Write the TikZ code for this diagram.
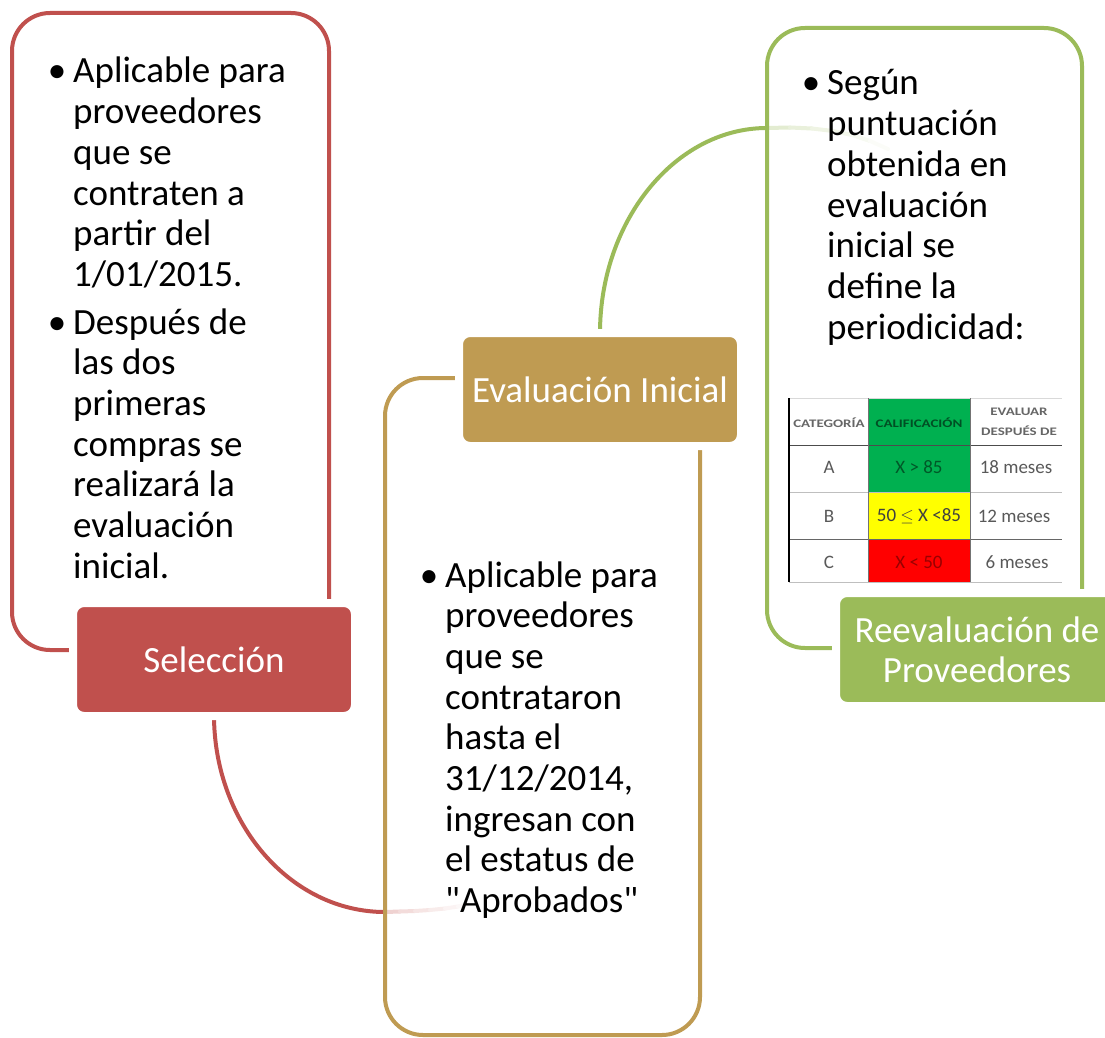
\documentclass[tikz,border=0pt]{standalone}
\usepackage{fontspec}
\usepackage{graphicx}
\setmainfont{Carlito}[Ligatures=TeXOff]
\definecolor{cred}{HTML}{C0504D}
\definecolor{cgold}{HTML}{BF9B52}
\definecolor{cgreen}{HTML}{9BBB59}
\definecolor{tgreen}{HTML}{00B050}
\definecolor{tyellow}{HTML}{FFFF00}
\definecolor{tred}{HTML}{FF0000}
\newcommand{\btext}[1]{\parbox[t]{330pt}{\fontsize{37}{40.7}\selectfont\raggedright #1}}
\newcommand{\wide}[1]{\scalebox{1.3}[1]{#1}}
\begin{document}
\begin{tikzpicture}[x=1pt,y=-1pt,
  outl/.style={line width=4pt, rounded corners=38pt},
  lbl/.style={fill=#1, draw=white, line width=8pt, rounded corners=11pt,
    minimum width=282pt, minimum height=113pt, inner sep=0pt, text=white,
    font=\fontsize{37}{40}\selectfont, align=center},
  bul/.style={anchor=base, inner sep=0pt, font=\fontsize{37}{40}\selectfont},
  btxt/.style={anchor=base west, inner sep=0pt},
  thead/.style={font=\fontsize{11.5}{20}\selectfont\bfseries, text=black!60, align=center, inner sep=0pt},
  tcell/.style={font=\fontsize{19}{19}\selectfont, text=black!65, inner sep=0pt},
  fadeseg/.style={line width=4pt, line cap=round}
]
\useasboundingbox (0,0) rectangle (1105,1038);
\clip (0,0) rectangle (1105,1038);

\path (214,659.5) coordinate (selc);
\path (600,389.5) coordinate (evac);
\path (977,649.5) coordinate (reec);

% connectors (arcs)
\coordinate (rStart) at (214,715);
\coordinate (gStart) at (600,333);
\coordinate (rEnd) at (385,912);
\coordinate (gEnd) at (767,128);
\draw[cred, line width=4pt] (rStart) .. controls (214,824) and (291,912) .. (rEnd);
\draw[cgreen, line width=4pt] (gStart) .. controls (600,221) and (675,128) .. (gEnd);

% fading tails
\draw[fadeseg, cred!26] (rEnd) -- (400,911.5);
\draw[fadeseg, cred!20] (400,911.5) -- (415,911);
\draw[fadeseg, cred!15] (415,911) -- (430,910);
\draw[fadeseg, cred!11] (430,910) -- (445,908.5);
\draw[fadeseg, cred!7] (445,908.5) -- (458,906.5);
\draw[fadeseg, cred!4] (458,906.5) -- (468,904);

\draw[fadeseg, cgreen!28] (gEnd) -- (790,127.5);
\draw[fadeseg, cgreen!22] (790,127.5) -- (812,128.5);
\draw[fadeseg, cgreen!16] (812,128.5) -- (833,131);
\draw[fadeseg, cgreen!12] (833,131) -- (852,135);
\draw[fadeseg, cgreen!8] (852,135) -- (870,141);
\draw[fadeseg, cgreen!4] (870,141) -- (888,149);

% outlines
\draw[outl, cred] (12,13) rectangle (329,650);
\draw[outl, cgold] (385,378) rectangle (700,1035);
\draw[outl, cgreen] (767,28) rectangle (1082,648);

% red box text
\node[bul] (b1) at (57,83) {•};
\node[btxt] (t1) at (73,83) {\btext{Aplicable para\\proveedores\\que se\\contraten a\\partir del\\1/01/2015.}};
\node[bul] (b2) at (57,334) {•};
\node[btxt] (t2) at (73,334) {\btext{Después de\\las dos\\primeras\\compras se\\realizará la\\evaluación\\inicial.}};

% gold box text
\node[bul] (b3) at (429,587) {•};
\node[btxt] (t3) at (445,587) {\btext{Aplicable para\\proveedores\\que se\\contrataron\\hasta el\\31/12/2014,\\ingresan con\\el estatus de\\"Aprobados"}};

% green box text
\node[bul] (b4) at (811,95) {•};
\node[btxt] (t4) at (827,95) {\btext{Según\\puntuación\\obtenida en\\evaluación\\inicial se\\define la\\periodicidad:}};

% table
\fill[tgreen] (868,398) rectangle (970,492);
\fill[tyellow] (868,492) rectangle (970,539);
\fill[tred] (868,539) rectangle (970,582);
\draw[black!15, line width=1pt] (789,398) -- (1062,398);
\draw[black!70, line width=1pt] (789,445) -- (1062,445);
\draw[black!25, line width=1pt] (789,492) -- (1062,492);
\draw[black!60, line width=1pt] (789,539) -- (1062,539);
\draw[black!25, line width=1pt] (789,582) -- (1062,582);
\draw[black!55, line width=1pt] (868,398) -- (868,582);
\draw[black!55, line width=1pt] (970,398) -- (970,582);
\draw[black, line width=1.8pt] (789,398) -- (789,582);

\node[thead] (h1) at (829,423) {\wide{CATEGORÍA}};
\node[thead, text=black!55!tgreen] (h2) at (919,423) {\wide{CALIFICACIÓN}};
\node[thead] (h3) at (1019,422) {\wide{EVALUAR}\\\wide{DESPUÉS DE}};
\node[tcell] (a1) at (829,467) {A};
\node[tcell, text=black!50!tgreen] (a2) at (919,467) {X > 85};
\node[tcell] (a3) at (1016,467) {18 meses};
\node[tcell] (c1) at (829,516) {B};
\node[tcell, text=black!75] (c2) at (919,516) {50 $\leq$ X <85};
\node[tcell] (c3) at (1014,516) {12 meses};
\node[tcell] (d1) at (829,562) {C};
\node[tcell, text=black!40!tred] (d2) at (919,562) {X < 50};
\node[tcell] (d3) at (1017,562) {6 meses};

% label boxes
\node[lbl=cred] (sel) at (selc) {Selección};
\node[lbl=cgold] (eva) at (evac) {Evaluación Inicial};
\node[lbl=cgreen] (ree) at (reec) {Reevaluación de\\Proveedores};
\end{tikzpicture}
\end{document}
